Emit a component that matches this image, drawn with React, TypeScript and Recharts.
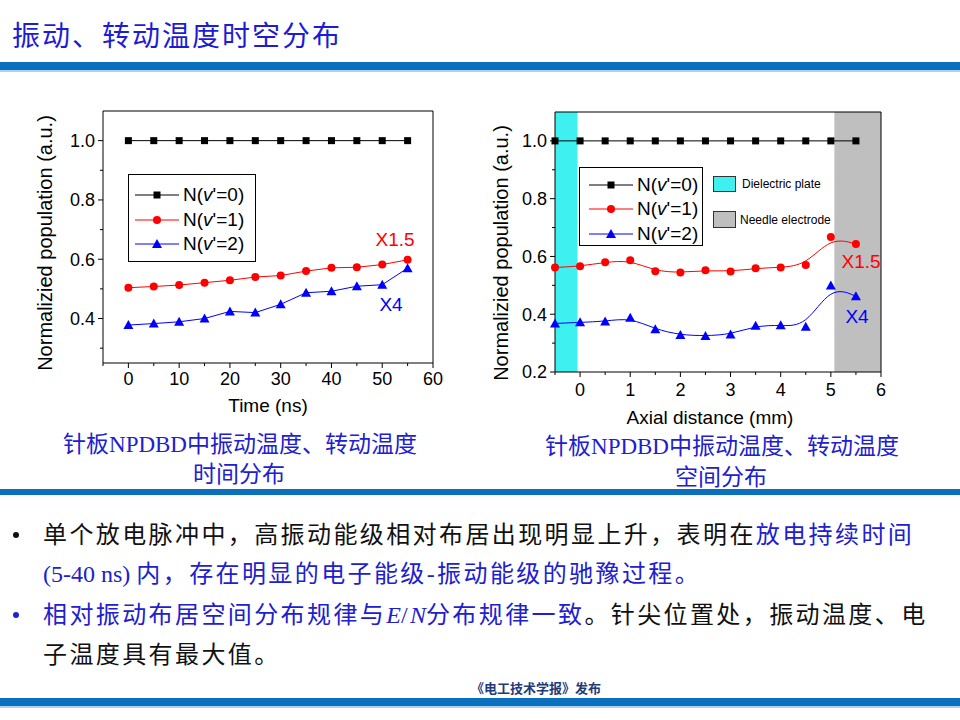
import { LineChart, Line, XAxis, YAxis, ReferenceArea, ReferenceLine } from 'recharts';

// time evolution (left chart)
const timeNs = [0, 5, 10, 15, 20, 25, 30, 35, 40, 45, 50, 55];
const timeN0 = [1, 1, 1, 1, 1, 1, 1, 1, 1, 1, 1, 1];
const timeN1 = [0.504, 0.508, 0.513, 0.521, 0.529, 0.54, 0.545, 0.56, 0.571, 0.573, 0.582, 0.598];
const timeN2 = [0.378, 0.383, 0.389, 0.4, 0.424, 0.42, 0.448, 0.487, 0.492, 0.509, 0.514, 0.57];

// axial distribution (right chart)
const distMm = [-0.5, 0, 0.5, 1, 1.5, 2, 2.5, 3, 3.5, 4, 4.5, 5, 5.5];
const distN0 = [1, 1, 1, 1, 1, 1, 1, 1, 1, 1, 1, 1, 1];
const distN1 = [0.562, 0.566, 0.58, 0.587, 0.549, 0.544, 0.552, 0.548, 0.559, 0.562, 0.57, 0.667, 0.643];
const distN2 = [0.368, 0.372, 0.375, 0.388, 0.348, 0.328, 0.325, 0.33, 0.36, 0.362, 0.357, 0.499, 0.462];

// ticks
const timeTicks = [-5, 0, 5, 10, 15, 20, 25, 30, 35, 40, 45, 50, 55, 60];
const timeMajor = [0, 10, 20, 30, 40, 50, 60];
const timeYTicks = [0.3, 0.4, 0.5, 0.6, 0.7, 0.8, 0.9, 1.0];
const timeYMajor = [0.4, 0.6, 0.8, 1.0];
const distTicks = [-0.5, 0, 0.5, 1, 1.5, 2, 2.5, 3, 3.5, 4, 4.5, 5, 5.5, 6];
const distMajor = [0, 1, 2, 3, 4, 5, 6];
const distYTicks = [0.2, 0.3, 0.4, 0.5, 0.6, 0.7, 0.8, 0.9, 1.0];
const distYMajor = [0.2, 0.4, 0.6, 0.8, 1.0];

const timeData = timeNs.map((t, i) => ({ x: t, n0: timeN0[i], n1: timeN1[i], n2: timeN2[i] }));
const distData = distMm.map((d, i) => ({ x: d, n0: distN0[i], n1: distN1[i], n2: distN2[i] }));

const ARIAL = '"Liberation Sans", Arial, sans-serif';
const CJK = '"Liberation Serif", "Noto Sans CJK SC", serif';
const BAR = '#0a6fbd';
const TXT_BLUE = '#2020d0';

function makeXTick(majors: number[], gap: number) {
  return (props: any) => {
    const { x, y, payload } = props;
    const v = payload.value;
    const major = majors.indexOf(v) >= 0;
    const ay = y - 8;
    return (
      <g>
        <line x1={x} x2={x} y1={ay} y2={ay + (major ? 5 : 3)} stroke="#000" />
        {major && (
          <text x={x} y={ay + gap} dy="0.71em" textAnchor="middle" fontSize={18} fill="#000" fontFamily={ARIAL}>
            {v}
          </text>
        )}
      </g>
    );
  };
}

function makeYTick(majors: number[]) {
  return (props: any) => {
    const { x, y, payload } = props;
    const v = payload.value;
    const major = majors.indexOf(v) >= 0;
    const ax = x + 8;
    return (
      <g>
        <line x1={ax - (major ? 5 : 3)} x2={ax} y1={y} y2={y} stroke="#000" />
        {major && (
          <text x={ax - 8} y={y} dy="0.35em" textAnchor="end" fontSize={18} fill="#000" fontFamily={ARIAL}>
            {v.toFixed(1)}
          </text>
        )}
      </g>
    );
  };
}

const squareDot = (p: any) => (
  <rect key={'s' + p.index} x={p.cx - 3.5} y={p.cy - 3.5} width={7} height={7} fill="#000" />
);
const circleDot = (p: any) => <circle key={'c' + p.index} cx={p.cx} cy={p.cy} r={4} fill="#ff0000" />;
const triDot = (p: any) => (
  <polygon
    key={'t' + p.index}
    points={`${p.cx},${p.cy - 5} ${p.cx - 5},${p.cy + 4} ${p.cx + 5},${p.cy + 4}`}
    fill="#0000ff"
  />
);

function LegendRow({ top, kind, n, lineX, lineW }: any) {
  const mx = lineX + lineW / 2;
  const color = kind === 0 ? '#000' : kind === 1 ? '#ff0000' : '#0000ff';
  return (
    <div style={{ position: 'absolute', left: 0, top: top - 12, height: 24, width: '100%' }}>
      <svg width={lineX + lineW + 2} height={24} style={{ position: 'absolute', left: 0, top: 0 }}>
        <line x1={lineX} x2={lineX + lineW} y1={12} y2={12} stroke={color} />
        {kind === 0 && <rect x={mx - 3.5} y={8.5} width={7} height={7} fill="#000" />}
        {kind === 1 && <circle cx={mx} cy={12} r={4} fill="#ff0000" />}
        {kind === 2 && <polygon points={`${mx},7 ${mx - 5},16 ${mx + 5},16`} fill="#0000ff" />}
      </svg>
      <div
        style={{
          position: 'absolute',
          left: lineX + lineW + 4,
          top: 0,
          lineHeight: '24px',
          fontSize: 19,
          fontFamily: ARIAL,
          whiteSpace: 'nowrap',
        }}
      >
        N(<i>v</i>'={n})
      </div>
    </div>
  );
}

function SeriesLegend({ left, top, width, height, rows, lineX, lineW }: any) {
  return (
    <div style={{ position: 'absolute', left, top, width, height, border: '1px solid #000', background: '#fff', boxSizing: 'border-box' }}>
      {[0, 1, 2].map((k) => (
        <LegendRow key={k} top={rows[k]} kind={k} n={k} lineX={lineX} lineW={lineW} />
      ))}
    </div>
  );
}

function Abs({ x, y, children, style }: any) {
  return (
    <div
      style={{
        position: 'absolute',
        left: x,
        top: y,
        transform: 'translate(-50%, -50%)',
        whiteSpace: 'nowrap',
        ...style,
      }}
    >
      {children}
    </div>
  );
}

function YTitle({ x, y }: any) {
  return (
    <div
      style={{
        position: 'absolute',
        left: x - 160,
        top: y - 12,
        width: 320,
        height: 24,
        lineHeight: '24px',
        textAlign: 'center',
        transform: 'rotate(-90deg)',
        fontSize: 20,
        fontFamily: ARIAL,
        whiteSpace: 'nowrap',
      }}
    >
      Normalizied population (a.u.)
    </div>
  );
}

const bodyLine = (top: number, color: string) => ({
  position: 'absolute' as const,
  left: 43,
  top,
  fontSize: 24,
  lineHeight: '30px',
  letterSpacing: 2.4,
  fontFamily: CJK,
  color,
  whiteSpace: 'nowrap' as const,
});

export default function App() {
  return (
    <div style={{ position: 'absolute', left: 0, top: 0, width: 960, height: 720, background: '#fff', overflow: 'hidden' }}>
      {/* header */}
      <div style={{ position: 'absolute', left: 12, top: 19, fontSize: 28, lineHeight: '36px', letterSpacing: 2, color: '#1c1cd6', fontFamily: CJK }}>
        振动、转动温度时空分布
      </div>
      <div style={{ position: 'absolute', left: 0, top: 62, width: 960, height: 8, background: BAR }} />
      <div style={{ position: 'absolute', left: 0, top: 70, width: 960, height: 2, background: '#a9d3f2' }} />

      {/* left chart */}
      <div style={{ position: 'absolute', left: 30, top: 100 }}>
        <LineChart width={420} height={330} data={timeData} margin={{ top: 11, right: 17, bottom: 37, left: 23 }}>
          <XAxis
            type="number"
            dataKey="x"
            domain={[-5, 60]}
            ticks={timeTicks}
            interval={0}
            height={30}
            tickSize={6}
            tickMargin={2}
            tickLine={false}
            axisLine={{ stroke: '#000' }}
            tick={makeXTick(timeMajor, 9)}
          />
          <YAxis
            type="number"
            domain={[0.25, 1.1]}
            ticks={timeYTicks}
            interval={0}
            width={50}
            tickSize={6}
            tickMargin={2}
            tickLine={false}
            axisLine={{ stroke: '#000' }}
            tick={makeYTick(timeYMajor)}
          />
          <ReferenceLine y={1.1} stroke="#000" />
          <ReferenceLine x={60} stroke="#000" />
          <Line type="linear" dataKey="n0" stroke="#000" strokeWidth={1} dot={squareDot} isAnimationActive={false} />
          <Line type="linear" dataKey="n1" stroke="#ff0000" strokeWidth={1} dot={circleDot} isAnimationActive={false} />
          <Line type="linear" dataKey="n2" stroke="#0000ff" strokeWidth={1} dot={triDot} isAnimationActive={false} />
        </LineChart>
      </div>

      {/* right chart */}
      <div style={{ position: 'absolute', left: 480, top: 100 }}>
        <LineChart width={420} height={340} data={distData} margin={{ top: 12, right: 19, bottom: 38, left: 25 }}>
          <XAxis
            type="number"
            dataKey="x"
            domain={[-0.5, 6]}
            ticks={distTicks}
            interval={0}
            height={30}
            tickSize={6}
            tickMargin={2}
            tickLine={false}
            axisLine={{ stroke: '#000' }}
            tick={makeXTick(distMajor, 11)}
          />
          <YAxis
            type="number"
            domain={[0.2, 1.1]}
            ticks={distYTicks}
            interval={0}
            width={50}
            tickSize={6}
            tickMargin={2}
            tickLine={false}
            axisLine={{ stroke: '#000' }}
            tick={makeYTick(distYMajor)}
          />
          <ReferenceArea x1={-0.5} x2={-0.05} fill="#3ff0f0" fillOpacity={1} stroke="none" />
          <ReferenceArea x1={5.07} x2={6} fill="#bfbfbf" fillOpacity={1} stroke="none" />
          <ReferenceLine y={1.1} stroke="#000" />
          <ReferenceLine x={6} stroke="#000" />
          <Line type="linear" dataKey="n0" stroke="#000" strokeWidth={1} dot={squareDot} isAnimationActive={false} />
          <Line type="basis" dataKey="n1" stroke="#ff0000" strokeWidth={1} dot={circleDot} isAnimationActive={false} />
          <Line type="basis" dataKey="n2" stroke="#0000ff" strokeWidth={1} dot={triDot} isAnimationActive={false} />
        </LineChart>
      </div>

      {/* axis titles */}
      <YTitle x={45} y={243} />
      <YTitle x={501} y={253} />
      <Abs x={268} y={406} style={{ fontSize: 19, fontFamily: ARIAL }}>Time (ns)</Abs>
      <Abs x={710} y={418} style={{ fontSize: 19, fontFamily: ARIAL }}>Axial distance (mm)</Abs>

      {/* legends */}
      <SeriesLegend left={128} top={174} width={128} height={88} rows={[20, 45, 69]} lineX={6} lineW={44} />
      <SeriesLegend left={579} top={167} width={124} height={79} rows={[17, 41, 66]} lineX={9} lineW={44} />
      <div style={{ position: 'absolute', left: 713, top: 176, width: 23, height: 16, background: '#3ff0f0', border: '1px solid #333', boxSizing: 'border-box' }} />
      <div style={{ position: 'absolute', left: 742, top: 176, lineHeight: '16px', fontSize: 12, fontFamily: ARIAL }}>Dielectric plate</div>
      <div style={{ position: 'absolute', left: 713, top: 211, width: 23, height: 17, background: '#bfbfbf', border: '1px solid #333', boxSizing: 'border-box' }} />
      <div style={{ position: 'absolute', left: 740, top: 212, lineHeight: '16px', fontSize: 12, fontFamily: ARIAL }}>Needle electrode</div>

      {/* scale annotations */}
      <Abs x={395} y={240} style={{ fontSize: 19, fontFamily: ARIAL, color: '#ff0000' }}>X1.5</Abs>
      <Abs x={391} y={305} style={{ fontSize: 19, fontFamily: ARIAL, color: '#0000ff' }}>X4</Abs>
      <Abs x={861} y={262} style={{ fontSize: 19, fontFamily: ARIAL, color: '#ff0000' }}>X1.5</Abs>
      <Abs x={857} y={317} style={{ fontSize: 19, fontFamily: ARIAL, color: '#0000ff' }}>X4</Abs>

      {/* captions */}
      <Abs x={240} y={442} style={{ fontSize: 23, fontFamily: CJK, color: TXT_BLUE }}>针板NPDBD中振动温度、转动温度</Abs>
      <Abs x={239} y={472} style={{ fontSize: 23, fontFamily: CJK, color: TXT_BLUE }}>时间分布</Abs>
      <Abs x={722} y={444} style={{ fontSize: 23, fontFamily: CJK, color: TXT_BLUE }}>针板NPDBD中振动温度、转动温度</Abs>
      <Abs x={721} y={475} style={{ fontSize: 23, fontFamily: CJK, color: TXT_BLUE }}>空间分布</Abs>

      <div style={{ position: 'absolute', left: 0, top: 489, width: 960, height: 6, background: BAR }} />

      {/* bullets */}
      <div style={{ position: 'absolute', left: 13, top: 532, width: 6, height: 6, borderRadius: 3, background: '#111' }} />
      <div style={{ position: 'absolute', left: 13, top: 612, width: 6, height: 6, borderRadius: 3, background: TXT_BLUE }} />
      <div style={bodyLine(520, '#111')}>
        单个放电脉冲中，高振动能级相对布居出现明显上升，表明在<span style={{ color: TXT_BLUE }}>放电持续时间</span>
      </div>
      <div style={bodyLine(559, TXT_BLUE)}>
        <span style={{ letterSpacing: 0 }}>(5-40 ns) </span>内，存在明显的电子能级-振动能级的驰豫过程。
      </div>
      <div style={bodyLine(600, '#111')}>
        <span style={{ color: TXT_BLUE }}>
          相对振动布居空间分布规律与<i style={{ letterSpacing: 0 }}>E</i>/<i style={{ letterSpacing: 0 }}>N</i>分布规律一致
        </span>
        。针尖位置处，振动温度、电
      </div>
      <div style={bodyLine(640, '#111')}>子温度具有最大值。</div>

      <Abs x={536} y={687} style={{ fontSize: 13, fontWeight: 'bold', fontFamily: '"Noto Sans CJK SC", sans-serif', color: '#1f3a7a' }}>
        《电工技术学报》发布
      </Abs>
      <div style={{ position: 'absolute', left: 0, top: 698, width: 960, height: 8, background: BAR }} />
      <div style={{ position: 'absolute', left: 0, top: 706, width: 960, height: 2, background: '#a9d3f2' }} />
    </div>
  );
}
